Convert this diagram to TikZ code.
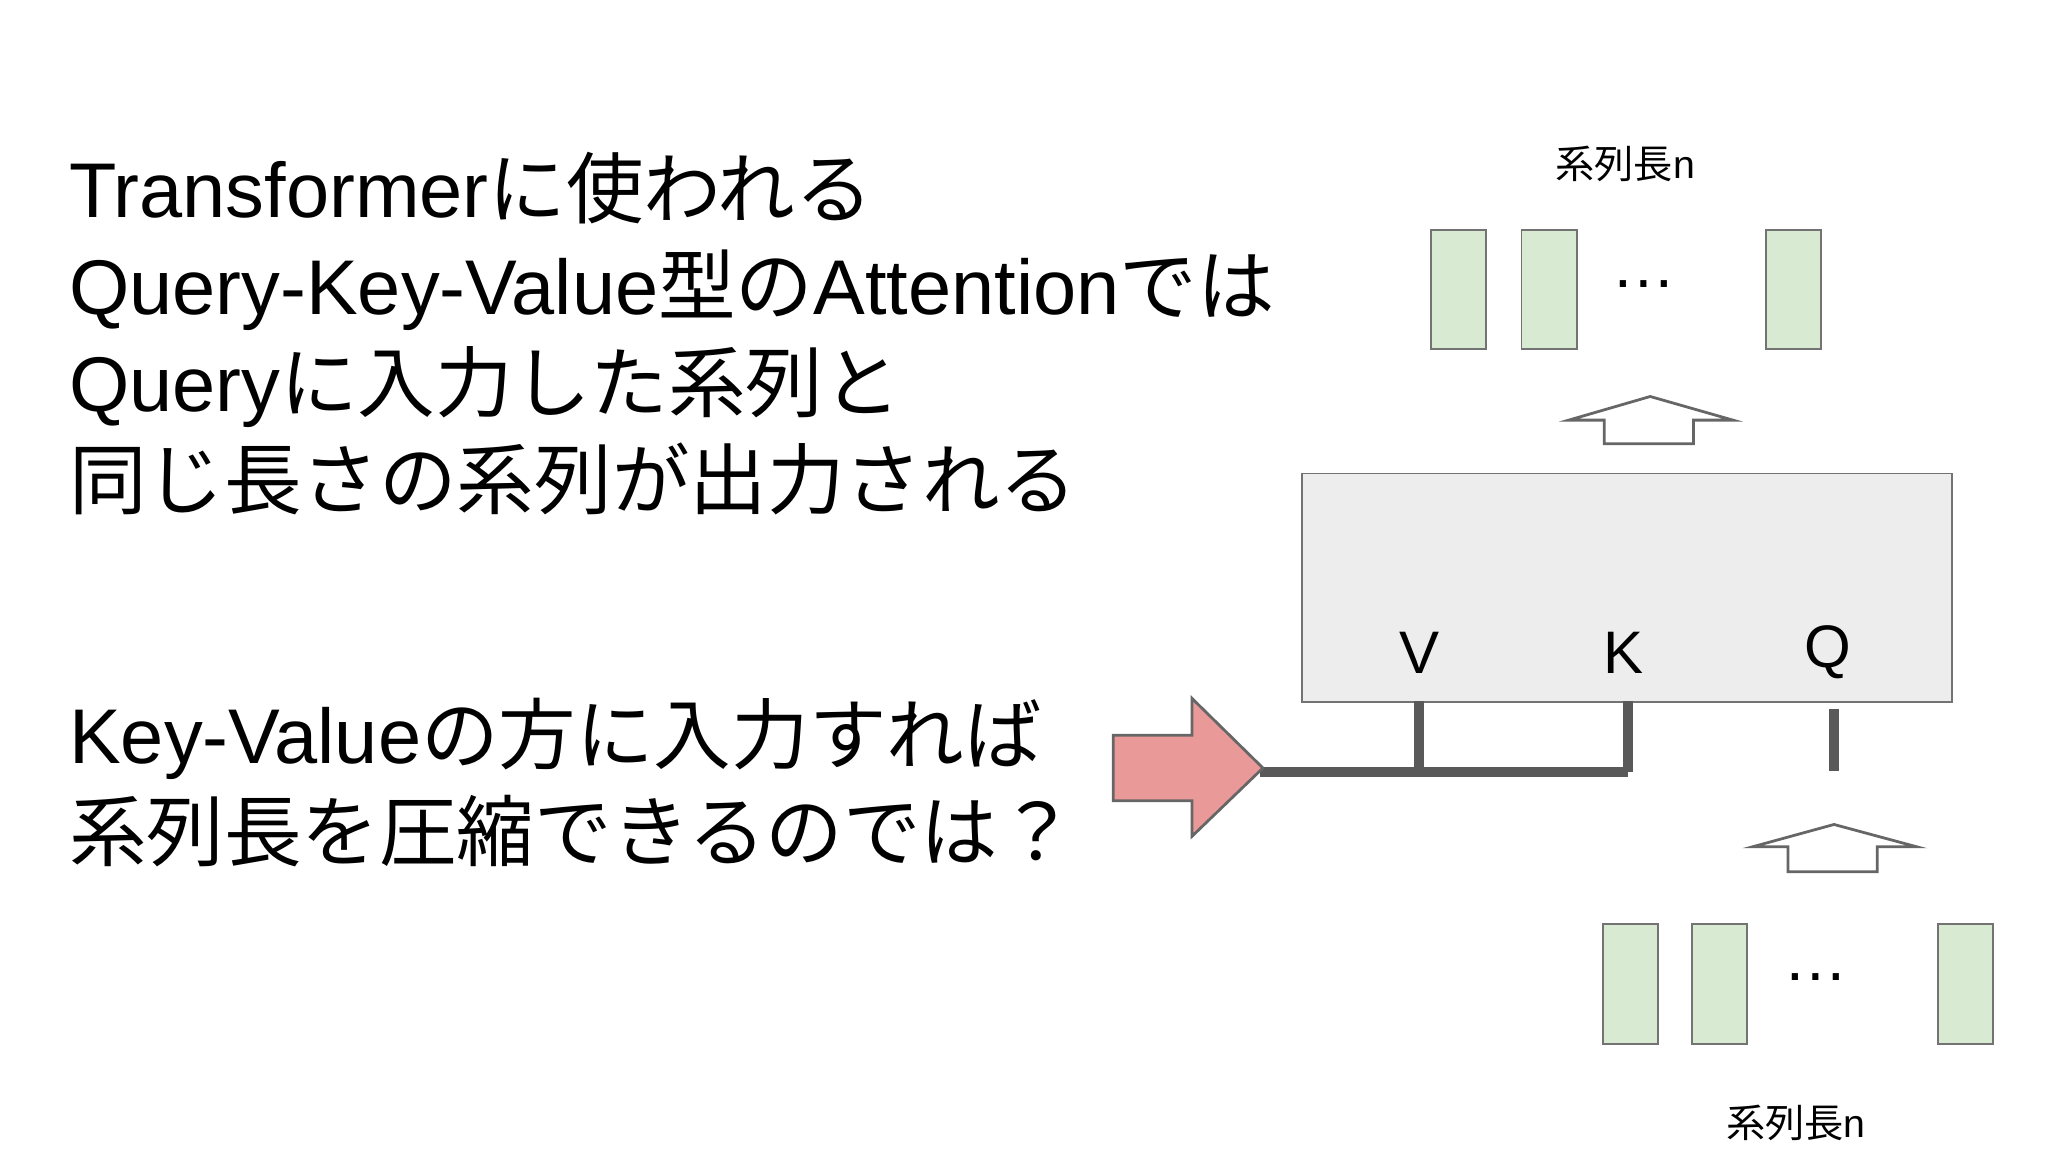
\documentclass[tikz,border=0pt]{standalone}
\usepackage{fontspec}
\setmainfont{Liberation Sans}
\newfontfamily\jp{Noto Sans CJK JP}
\begin{document}
\begin{tikzpicture}[x=0.01cm,y=-0.01cm,
  hollow/.style={draw=black!60,fill=white,line width=0.6pt},
  wire/.style={draw=black!65,line width=2.2pt},
  lbl/.style={font=\fontsize{8.5}{10}\selectfont,inner sep=0},
  qkv/.style={font=\fontsize{13}{15}\selectfont,inner sep=0}]
\useasboundingbox (0,0) rectangle (1560,878);
\definecolor{boxgreen}{HTML}{D9EAD3}
\definecolor{pinkc}{HTML}{EA9999}
\node[anchor=west,align=left,inner sep=0,font=\fontsize{16.8}{21}\selectfont] (t1) at (52,254)
 {Transformer{\jp に使われる}\\Query-Key-Value{\jp 型の}Attention{\jp では}\\Query{\jp に入力した系列と}\\{\jp 同じ長さの系列が出力される}};
\node[anchor=west,align=left,inner sep=0,font=\fontsize{16.8}{21}\selectfont] (t2) at (52,596)
 {Key-Value{\jp の方に入力すれば}\\{\jp 系列長を圧縮できるのでは？}};
\node[lbl] (ltop) at (1238,125) {{\jp 系列長}n};
\node[lbl] (lbot) at (1368,855) {{\jp 系列長}n};
\foreach \x in {1090,1159,1345}
  \draw[fill=boxgreen,draw=black!55] (\x,175) rectangle (\x+42,266);
\node[font=\fontsize{14}{14}\selectfont] (d1) at (1252,216) {…};
\foreach \x in {1221,1289,1476}
  \draw[fill=boxgreen,draw=black!55] (\x,704) rectangle (\x+42,795);
\node[font=\fontsize{14}{14}\selectfont] (d2) at (1383,744) {…};
\draw[hollow] (1257,302) -- (1320,320) -- (1290,320) -- (1290,338) -- (1222,338) -- (1222,320) -- (1195,320) -- cycle;
\draw[hollow] (1397,628) -- (1460,645) -- (1430,645) -- (1430,664) -- (1362,664) -- (1362,645) -- (1335,645) -- cycle;
\node[draw=black!55,fill=black!7,inner sep=0,anchor=north west,
  minimum width=4.95cm,minimum height=1.74cm] (att) at (991,360) {};
\node[qkv] (V) at (1081,497) {V};
\node[qkv] (K) at (1237,497) {K};
\node[qkv] (Q) at (1392,497) {Q};
\coordinate (vj) at (1081,588);
\coordinate (kj) at (1240,588);
\coordinate (in) at (960,588);
\draw[wire] (1081,534) -- (vj);
\draw[wire] (1240,534) -- (kj);
\draw[wire] (in) -- (kj);
\draw[wire] (1397,540) -- (1397,587);
\draw[fill=pinkc,draw=black!60,line width=0.6pt] (848,560) -- (908,560) -- (908,532) -- (962,585) -- (908,637) -- (908,610) -- (848,610) -- cycle;
\end{tikzpicture}
\end{document}
